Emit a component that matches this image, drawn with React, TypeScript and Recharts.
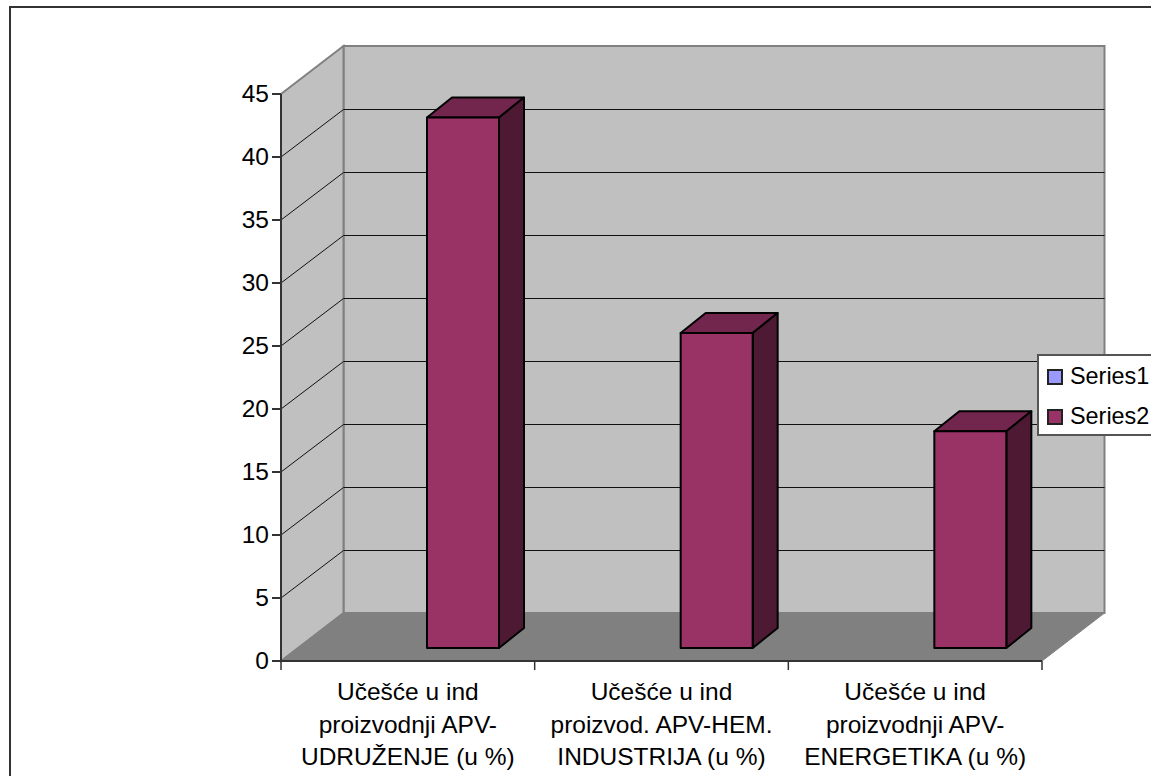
import React from 'react';
import { Bar, BarChart, Customized, Legend, XAxis, YAxis } from 'recharts';

const categories = [
  'Učešće u ind proizvodnji APV-UDRUŽENJE (u %)',
  'Učešće u ind proizvod. APV-HEM. INDUSTRIJA (u %)',
  'Učešće u ind proizvodnji APV-ENERGETIKA (u %)',
];
const categoryLines = [
  ['Učešće u ind', 'proizvodnji APV-', 'UDRUŽENJE (u %)'],
  ['Učešće u ind', 'proizvod. APV-HEM.', 'INDUSTRIJA (u %)'],
  ['Učešće u ind', 'proizvodnji APV-', 'ENERGETIKA (u %)'],
];
const series1: (number | null)[] = [null, null, null];
const series2 = [42.1, 25, 17.2];
const yTicks = [0, 5, 10, 15, 20, 25, 30, 35, 40, 45];

const data = categories.map((name, i) => ({
  name,
  Series1: series1[i],
  Series2: series2[i],
}));

const WIDTH = 1151;
const HEIGHT = 776;
const FONT = '"Liberation Sans", Arial, sans-serif';
const FONT_SIZE = 24.5;
const PLOT = { left: 281, top: 94, right: 1042, bottom: 661 };
const DEPTH = { x: 62.5, y: 48 };
const BAR_SHIFT = { x: 19, y: 13 };
const BAR_DEPTH = { x: 25, y: 20 };

const yPos = (v: number) =>
  PLOT.bottom - (v / 45) * (PLOT.bottom - PLOT.top);

// Side wall, back wall and floor of the 3D box
const Walls = () => {
  const { left, top, right, bottom } = PLOT;
  const bl = left + DEPTH.x;
  const br = right + DEPTH.x;
  const bt = top - DEPTH.y;
  const bb = bottom - DEPTH.y;
  const step = (right - left) / categories.length;
  return (
    <g>
      <polygon
        points={`${bl},${bt} ${br},${bt} ${br},${bb} ${bl},${bb}`}
        fill='#c0c0c0'
        stroke='#808080'
        strokeWidth={2}
      />
      <polygon
        points={`${left},${top} ${bl},${bt} ${bl},${bb} ${left},${bottom}`}
        fill='#c0c0c0'
        stroke='#808080'
        strokeWidth={2}
      />
      <polygon
        points={`${left},${bottom} ${bl},${bb} ${br},${bb} ${right},${bottom}`}
        fill='#808080'
        stroke='#808080'
      />
      {yTicks
        .filter((v) => v > 0 && v < 45)
        .map((v) => {
          const backY = Math.round(yPos(v) - DEPTH.y) + 0.5;
          return (
            <polyline
              key={v}
              points={`${left},${yPos(v)} ${bl},${backY} ${br},${backY}`}
              fill='none'
              stroke='#111'
              strokeWidth={1}
            />
          );
        })}
      {/* x ticks sit between the categories */}
      {[0, 1, 2, 3].map((i) => (
        <line
          key={i}
          x1={left + i * step}
          x2={left + i * step}
          y1={bottom}
          y2={bottom + 9}
          stroke='#333'
          strokeWidth={1.5}
        />
      ))}
    </g>
  );
};

const Bar3D = (props: any) => {
  const { x, y, width, height, value } = props;
  if (value == null || Array.isArray(value) && value[1] == null) return null;
  const l = x + BAR_SHIFT.x;
  const r = l + width;
  const t = y - BAR_SHIFT.y;
  const b = t + height;
  const dx = BAR_DEPTH.x;
  const dy = BAR_DEPTH.y;
  return (
    <g stroke='#000' strokeWidth={2} strokeLinejoin='round'>
      <polygon
        points={`${l},${t} ${l + dx},${t - dy} ${r + dx},${t - dy} ${r},${t}`}
        fill='#73264d'
      />
      <polygon
        points={`${r},${t} ${r + dx},${t - dy} ${r + dx},${b - dy} ${r},${b}`}
        fill='#4d1933'
      />
      <rect x={l} y={t} width={width} height={height} fill='#993366' />
    </g>
  );
};

const CategoryTick = (props: any) => {
  const { x, payload, index } = props;
  const lines = categoryLines[index] ?? [payload.value];
  return (
    <text
      x={x}
      textAnchor='middle'
      fontFamily={FONT}
      fontSize={FONT_SIZE}
      fill='#000'
    >
      {lines.map((line: string, i: number) => (
        <tspan key={i} x={x} y={700 + i * 32.5}>
          {line}
        </tspan>
      ))}
    </text>
  );
};

const LegendBox = (props: any) => (
  <div
    style={{
      width: 130,
      height: 78,
      background: '#fff',
      border: '2px solid #555',
      borderRight: 'none',
      fontFamily: FONT,
      fontSize: 23.4,
      color: '#000',
      position: 'relative',
    }}
  >
    {props.payload.map((entry: any, i: number) => (
      <div
        key={entry.value}
        style={{
          position: 'absolute',
          left: 8,
          top: 6 + i * 40,
          height: 28,
          lineHeight: '28px',
          whiteSpace: 'nowrap',
        }}
      >
        <span
          style={{
            position: 'absolute',
            left: 0,
            top: 7,
            width: 12,
            height: 12,
            background: entry.color,
            border: '2px solid #222',
          }}
        />
        <span style={{ position: 'absolute', left: 23, top: 0 }}>{entry.value}</span>
      </div>
    ))}
  </div>
);

export default function App() {
  return (
    <div
      style={{
        position: 'absolute',
        left: 0,
        top: 0,
        width: WIDTH,
        height: HEIGHT,
        overflow: 'hidden',
        background: '#fff',
      }}
    >
      <div
        style={{
          position: 'absolute',
          left: 9,
          top: 6,
          width: WIDTH,
          height: HEIGHT,
          borderLeft: '2px solid #333',
          borderTop: '2px solid #333',
        }}
      />
      <BarChart
        width={WIDTH}
        height={HEIGHT}
        data={data}
        barSize={72}
        barGap={0}
        margin={{
          top: PLOT.top,
          right: WIDTH - PLOT.right,
          bottom: 0,
          left: 0,
        }}
        style={{ position: 'absolute', left: 0, top: 0 }}
      >
        <Customized component={<Walls />} />
        <XAxis
          dataKey='name'
          height={HEIGHT - PLOT.bottom}
          interval={0}
          stroke='#333'
          strokeWidth={2}
          tickLine={false}
          tick={<CategoryTick />}
        />
        <YAxis
          width={PLOT.left}
          domain={[0, 45]}
          ticks={yTicks}
          interval={0}
          stroke='#333'
          strokeWidth={2}
          tickSize={9}
          tickMargin={3}
          tick={{ fontFamily: FONT, fontSize: FONT_SIZE, fill: '#000', dy: -1 }}
        />
        <Legend
          content={<LegendBox />}
          layout='horizontal'
          verticalAlign='middle'
          align='center'
          wrapperStyle={{ position: 'absolute', left: 1037, top: 354, right: 'auto', bottom: 'auto', width: 130, height: 82 }}
        />
        <Bar dataKey='Series1' fill='#9999ff' isAnimationActive={false} shape={<Bar3D />} />
        <Bar dataKey='Series2' fill='#993366' isAnimationActive={false} shape={<Bar3D />} />
      </BarChart>
    </div>
  );
}
